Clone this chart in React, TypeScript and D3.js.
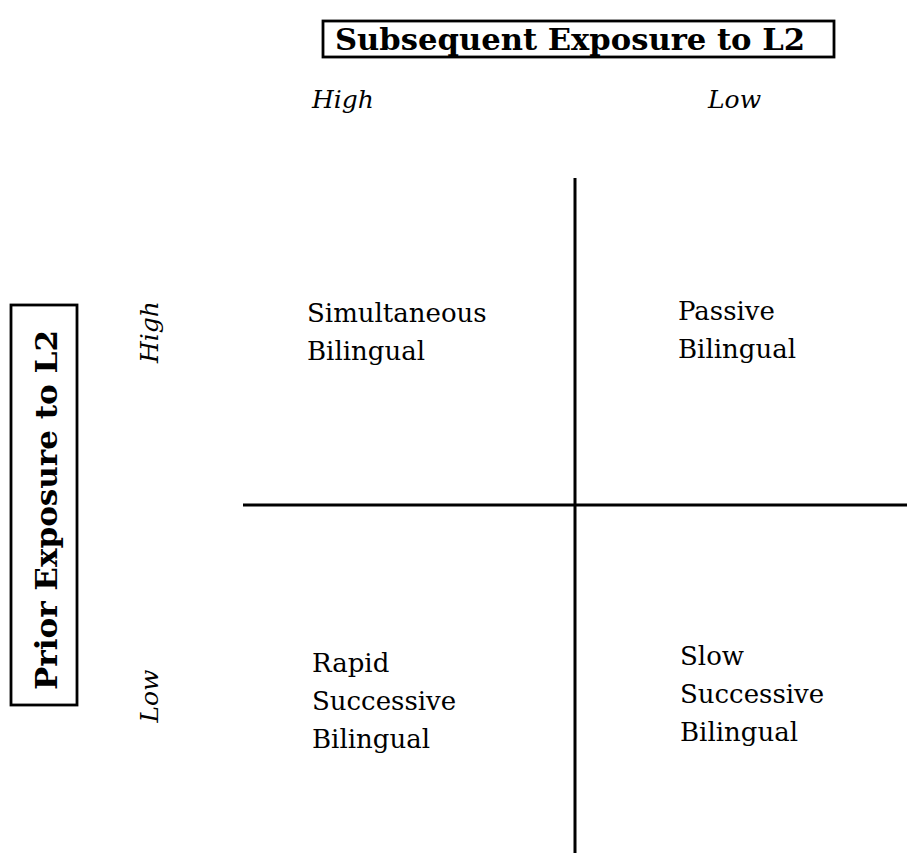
import React from "react";
import * as d3 from "d3";

const colTitle = "Subsequent Exposure to L2";
const rowTitle = "Prior Exposure to L2";
const colLevels = ["High", "Low"];
const rowLevels = ["High", "Low"];
const cellLabels: string[][][] = [
  [["Simultaneous", "Bilingual"], ["Passive", "Bilingual"]],
  [["Rapid", "Successive", "Bilingual"], ["Slow", "Successive", "Bilingual"]],
];

const W = 907;
const H = 853;

export default function App() {
  const x = d3.scaleLinear().domain([0, 1, 2]).range([243, 575, 907]);
  const y = d3.scaleLinear().domain([0, 1, 2]).range([178, 505, 853]);
  const serif = "'DejaVu Serif', 'Liberation Serif', serif";
  const colLabelX = [312, 708];
  const rowLabelY = [332, 696];
  const cellX = [[307, 678], [312, 680]];
  const cellY = [[322, 320], [672, 665]];
  const lineH = 38;

  return (
    <svg
      width={W}
      height={H}
      style={{ position: "absolute", left: 0, top: 0, background: "#fff" }}
      fontFamily={serif}
    >
      <rect x={0} y={0} width={W} height={H} fill="#fff" />
      {/* column title */}
      <rect x={323} y={21} width={511} height={36} fill="none" stroke="#000" strokeWidth={2.8} />
      <text x={335} y={50} fontSize={30} fontWeight="bold" textLength={470} lengthAdjust="spacingAndGlyphs">
        {colTitle}
      </text>
      {/* row title */}
      <rect x={11} y={305} width={66} height={400} fill="none" stroke="#000" strokeWidth={2.8} />
      <text
        transform={`translate(57,${510}) rotate(-90)`}
        textAnchor="middle"
        fontSize={30}
        fontWeight="bold"
        textLength={360}
        lengthAdjust="spacingAndGlyphs"
      >
        {rowTitle}
      </text>
      {/* column levels */}
      {colLevels.map((c, i) => (
        <text key={c + i} x={colLabelX[i]} y={108} fontSize={25} fontStyle="italic">
          {c}
        </text>
      ))}
      {/* row levels */}
      {rowLevels.map((r, i) => (
        <text
          key={r + i}
          transform={`translate(158,${rowLabelY[i]}) rotate(-90)`}
          textAnchor="middle"
          fontSize={25}
          fontStyle="italic"
        >
          {r}
        </text>
      ))}
      {/* axes lines */}
      <line x1={x(1)} x2={x(1)} y1={y(0)} y2={y(2)} stroke="#000" strokeWidth={3} />
      <line x1={x(0)} x2={x(2)} y1={y(1)} y2={y(1)} stroke="#000" strokeWidth={3} />
      {/* cells */}
      {cellLabels.map((row, ri) =>
        row.map((lines, ci) => (
          <text key={`${ri}-${ci}`} fontSize={26}>
            {lines.map((l, li) => (
              <tspan key={li} x={cellX[ri][ci]} y={cellY[ri][ci] + li * lineH}>
                {l}
              </tspan>
            ))}
          </text>
        ))
      )}
    </svg>
  );
}
